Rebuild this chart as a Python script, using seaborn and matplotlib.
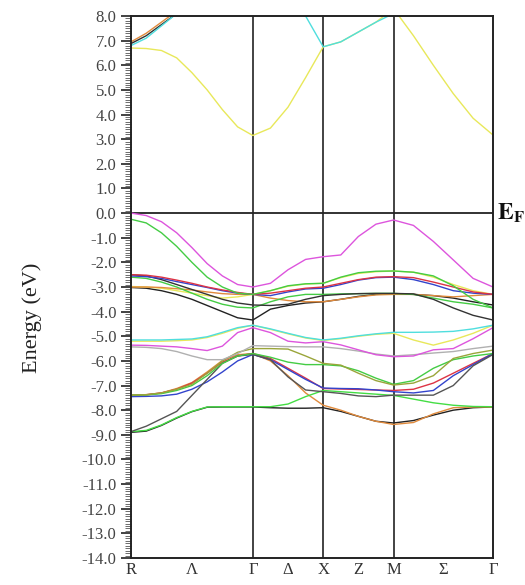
import numpy as np
import pandas as pd
import matplotlib
matplotlib.use("Agg")
import matplotlib.pyplot as plt
import matplotlib.transforms as mtransforms
from matplotlib.ticker import MultipleLocator, FormatStrFormatter
import seaborn as sns

# k-path sampling (R -> Gamma -> X -> M -> Gamma), simple cubic units
k = [0.0, 0.2165, 0.433, 0.6495, 0.866, 1.0825, 1.299, 1.5155, 1.732,
     1.982, 2.232, 2.482, 2.732,
     2.982, 3.232, 3.482, 3.732,
     4.015, 4.298, 4.581, 4.863, 5.146]

sym_pos = [0.0, 0.866, 1.732, 2.232, 2.732, 3.232, 3.732, 4.439, 5.146]
sym_lab = ["R", "Λ", "Γ", "Δ", "X", "Z", "M", "Σ", "Γ"]
vlines_at = [1.732, 2.732, 3.732]

# ---- conduction bands ----
cb_yellow = [6.7, 6.68, 6.6, 6.3, 5.7, 5.0, 4.2, 3.5, 3.15,
             3.45, 4.3, 5.5, 6.75,
             6.95, 7.35, 7.75, 8.3,
             7.2, 6.0, 4.85, 3.85, 3.17]
cb_cyan = [6.8, 7.1, 7.6, 8.1, 8.6, 9.0, 9.3, 9.5, 9.6,
           9.5, 8.9, 8.0, 6.75,
           6.95, 7.35, 7.75, 8.1,
           8.6, 9.0, 9.3, 9.5, 9.6]
cb_orange = [6.95, 7.3, 7.75, 8.2, 8.8, 9.2, 9.5, 9.7, 9.8,
             9.8, 9.8, 9.8, 9.8, 9.8, 9.8, 9.8, 9.8, 9.8, 9.8, 9.8, 9.8, 9.8]
cb_black = [6.88, 7.2, 7.65, 8.1, 8.7, 9.1, 9.4, 9.6, 9.7,
            9.7, 9.7, 9.7, 9.7, 9.7, 9.7, 9.7, 9.7, 9.7, 9.7, 9.7, 9.7, 9.7]

# ---- upper valence cluster ----
vb_magenta1 = [0.0, -0.1, -0.35, -0.8, -1.4, -2.05, -2.55, -2.9, -3.0,
               -2.85, -2.3, -1.88, -1.77,
               -1.7, -0.95, -0.45, -0.28,
               -0.5, -1.15, -1.9, -2.65, -3.0]
vb_green1 = [-0.25, -0.4, -0.8, -1.35, -2.0, -2.6, -3.0, -3.25, -3.3,
             -3.15, -2.95, -2.87, -2.85,
             -2.6, -2.42, -2.36, -2.35,
             -2.4, -2.55, -2.95, -3.5, -3.85]
vb_red1 = [-2.5, -2.52, -2.6, -2.72, -2.85, -3.0, -3.12, -3.22, -3.3,
           -3.25, -3.15, -3.05, -3.0,
           -2.85, -2.7, -2.6, -2.58,
           -2.62, -2.8, -3.0, -3.2, -3.3]
vb_blue1 = [-2.55, -2.58, -2.65, -2.78, -2.9, -3.02, -3.15, -3.25, -3.3,
            -3.35, -3.2, -3.08, -3.05,
            -2.9, -2.72, -2.62, -2.6,
            -2.7, -2.9, -3.15, -3.25, -3.3]
vb_black1 = [-2.5, -2.55, -2.7, -2.9, -3.1, -3.3, -3.5, -3.65, -3.73,
             -3.75, -3.7, -3.5, -3.35,
             -3.3, -3.27, -3.26, -3.26,
             -3.28, -3.5, -3.85, -4.15, -4.34]
vb_green2 = [-2.6, -2.65, -2.8, -3.0, -3.25, -3.5, -3.7, -3.82, -3.85,
             -3.6, -3.4, -3.3, -3.3,
             -3.28, -3.27, -3.26, -3.26,
             -3.3, -3.45, -3.6, -3.7, -3.85]
vb_orange1 = [-3.0, -3.0, -3.02, -3.07, -3.12, -3.2, -3.27, -3.3, -3.3,
              -3.45, -3.55, -3.6, -3.6,
              -3.5, -3.4, -3.32, -3.3,
              -3.3, -3.35, -3.4, -3.35, -3.3]
vb_yellow1 = [-2.98, -3.0, -3.05, -3.15, -3.25, -3.35, -3.45, -3.4, -3.3,
              -3.15, -2.97, -2.88, -2.85,
              -2.62, -2.45, -2.38, -2.35,
              -2.4, -2.6, -2.9, -3.15, -3.3]
vb_black2 = [-3.02, -3.05, -3.15, -3.3, -3.5, -3.75, -4.0, -4.25, -4.34,
             -3.9, -3.75, -3.65, -3.6,
             -3.5, -3.38, -3.3, -3.28,
             -3.3, -3.35, -3.45, -3.6, -3.73]

# ---- middle valence bands ----
vb_cyan = [-5.15, -5.15, -5.15, -5.13, -5.11, -5.02, -4.84, -4.65, -4.55,
           -4.7, -4.88, -5.05, -5.15,
           -5.08, -4.98, -4.9, -4.84,
           -4.84, -4.83, -4.8, -4.7, -4.55]
vb_magenta2 = [-5.36, -5.37, -5.4, -5.43, -5.5, -5.58, -5.4, -4.85, -4.65,
               -4.85, -5.2, -5.27, -5.22,
               -5.35, -5.55, -5.75, -5.83,
               -5.8, -5.55, -5.5, -5.1, -4.65]
vb_yellow2 = [-5.2, -5.2, -5.2, -5.18, -5.15, -5.05, -4.88, -4.68, -4.55,
              -4.72, -4.9, -5.07, -5.17,
              -5.1, -5.0, -4.92, -4.88,
              -5.15, -5.36, -5.15, -4.88, -4.55]
vb_grey = [-5.43, -5.45, -5.5, -5.62, -5.8, -5.95, -5.95, -5.7, -5.38,
           -5.4, -5.42, -5.43, -5.43,
           -5.5, -5.6, -5.72, -5.8,
           -5.75, -5.68, -5.62, -5.5, -5.4]

# ---- lower valence bands ----
vb_olive = [-7.39, -7.37, -7.3, -7.15, -6.95, -6.5, -6.0, -5.65, -5.5,
            -5.5, -5.52, -5.8, -6.1,
            -6.17, -6.5, -6.8, -6.98,
            -6.9, -6.6, -5.9, -5.7, -5.56]
vb_green3 = [-7.39, -7.38, -7.33, -7.2, -7.0, -6.6, -6.1, -5.8, -5.7,
             -5.85, -6.05, -6.15, -6.15,
             -6.2, -6.4, -6.7, -6.95,
             -6.8, -6.3, -5.95, -5.8, -5.7]
vb_black3 = [-8.87, -8.65, -8.35, -8.05, -7.4, -6.75, -6.1, -5.8, -5.74,
             -5.95, -6.65, -7.18, -7.25,
             -7.32, -7.42, -7.45, -7.39,
             -7.39, -7.39, -7.0, -6.2, -5.74]
vb_blue2 = [-7.45, -7.44, -7.42, -7.35, -7.15, -6.85, -6.45, -6.0, -5.74,
            -5.95, -6.35, -6.75, -7.1,
            -7.12, -7.13, -7.18, -7.25,
            -7.3, -7.2, -6.6, -6.15, -5.7]
vb_red2 = [-7.39, -7.37, -7.3, -7.15, -6.9, -6.5, -6.05, -5.8, -5.7,
           -5.9, -6.3, -6.7, -7.12,
           -7.14, -7.16, -7.18, -7.2,
           -7.15, -6.9, -6.5, -6.1, -5.7]
vb_orange2 = [-7.4, -7.38, -7.3, -7.12, -6.88, -6.45, -5.98, -5.75, -5.7,
              -6.0, -6.6, -7.3, -7.8,
              -8.0, -8.25, -8.45, -8.58,
              -8.5, -8.15, -7.9, -7.87, -7.87]
vb_green4 = [-8.87, -8.82, -8.6, -8.3, -8.05, -7.87, -7.86, -7.86, -7.86,
             -7.86, -7.75, -7.45, -7.2,
             -7.25, -7.3, -7.35, -7.4,
             -7.55, -7.7, -7.8, -7.85, -7.86]
vb_black4 = [-8.9, -8.85, -8.62, -8.32, -8.06, -7.88, -7.87, -7.87, -7.87,
             -7.9, -7.92, -7.92, -7.9,
             -8.05, -8.25, -8.45, -8.52,
             -8.42, -8.2, -8.0, -7.9, -7.87]

bands = [
    ("cb_yellow", cb_yellow, "#e8e85a"),
    ("cb_orange", cb_orange, "#e08a3c"),
    ("cb_black", cb_black, "#333333"),
    ("cb_cyan", cb_cyan, "#4fdede"),
    ("vb_black4", vb_black4, "#222222"),
    ("vb_orange2", vb_orange2, "#e08a3c"),
    ("vb_green4", vb_green4, "#44dd44"),
    ("vb_red2", vb_red2, "#dd3344"),
    ("vb_blue2", vb_blue2, "#3344cc"),
    ("vb_black3", vb_black3, "#555555"),
    ("vb_green3", vb_green3, "#44cc44"),
    ("vb_olive", vb_olive, "#9aa53a"),
    ("vb_grey", vb_grey, "#b0b0b0"),
    ("vb_yellow2", vb_yellow2, "#e8e85a"),
    ("vb_magenta2", vb_magenta2, "#dd55dd"),
    ("vb_cyan", vb_cyan, "#4fdede"),
    ("vb_black2", vb_black2, "#222222"),
    ("vb_yellow1", vb_yellow1, "#e8e85a"),
    ("vb_orange1", vb_orange1, "#e08a3c"),
    ("vb_green2", vb_green2, "#44cc44"),
    ("vb_black1", vb_black1, "#333333"),
    ("vb_blue1", vb_blue1, "#3344cc"),
    ("vb_red1", vb_red1, "#dd3344"),
    ("vb_green1", vb_green1, "#44cc44"),
    ("vb_magenta1", vb_magenta1, "#dd55dd"),
]

rows = []
for name, vals, _ in bands:
    for kk, e in zip(k, vals):
        rows.append((name, kk, e))
df = pd.DataFrame(rows, columns=["band", "k", "E"])
palette = {name: col for name, _, col in bands}

sns.set_theme(style="white")
plt.rcParams["font.family"] = ["Liberation Serif", "DejaVu Serif"]
plt.rcParams["mathtext.fontset"] = "stix"
plt.rcParams["axes.unicode_minus"] = False

fig = plt.figure(figsize=(5.25, 5.85), dpi=100)
ax = fig.add_axes([131 / 525, 1 - 558 / 585, (493 - 131) / 525, 542 / 585])

sns.lineplot(data=df, x="k", y="E", hue="band", hue_order=[b[0] for b in bands],
             palette=palette, sort=False, estimator=None, legend=False,
             linewidth=1.0, ax=ax)

for xv in vlines_at:
    ax.axvline(xv, color="#222222", lw=1.2, zorder=1)
ax.axhline(0.0, color="#222222", lw=1.3, zorder=1)

ax.set_xlim(0, 5.146)
ax.set_ylim(-14, 8)
ax.set_xticks(sym_pos)
ax.set_xticklabels(sym_lab, fontsize=12, color="#333333")
ax.tick_params(axis="x", length=0, pad=3)
ax.yaxis.set_major_locator(MultipleLocator(1.0))
ax.yaxis.set_minor_locator(MultipleLocator(0.1))
ax.yaxis.set_major_formatter(FormatStrFormatter("%.1f"))
ax.tick_params(axis="y", which="major", length=7, width=1.2, direction="out",
               labelsize=12, labelcolor="#444444", color="#222222", left=True)
ax.tick_params(axis="y", which="minor", length=4, width=0.6, direction="out",
               color="#555555", left=True)
ax.set_xlabel("")
ax.set_ylabel("Energy (eV)", fontsize=16, color="#222222")
ax.yaxis.set_label_coords(-0.245, 0.443)

for sp in ax.spines.values():
    sp.set_visible(True)
    sp.set_color("#222222")
    sp.set_linewidth(1.4)

trans = mtransforms.blended_transform_factory(ax.transAxes, ax.transData)
ax.text(1.01, 0.0, r"$\mathbf{E_F}$", transform=trans, ha="left", va="center",
        fontsize=17, color="#111111")

fig.savefig("out.png", dpi=100)
